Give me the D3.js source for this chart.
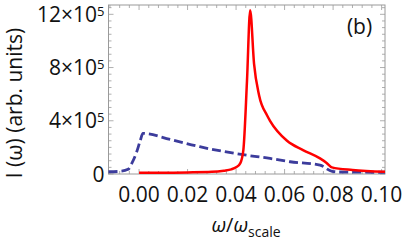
<!DOCTYPE html>
<html>
<head>
<meta charset="utf-8">
<script src="https://cdn.jsdelivr.net/npm/d3@7"></script>
<style>
  body { margin: 0; background: #fff; }
  text { font-family: "Open Sans", sans-serif; fill: #111; }
</style>
</head>
<body>
<svg id="chart"></svg>
<script>
const svg_width = 402;
const svg_height = 241;

// plot frame (pixels)
var margin = { top: 5, right: 17, bottom: 67, left: 108.5 };
var width = svg_width - margin.left - margin.right;
var height = svg_height - margin.top - margin.bottom;

// red (solid) curve: omega, I in units of 1e5
const red_w = [0.000, 0.010, 0.020, 0.030, 0.035, 0.038, 0.040, 0.0417, 0.043, 0.0445, 0.0458,
               0.0474, 0.0495, 0.0528, 0.054, 0.061, 0.0676, 0.0746, 0.0772, 0.0795, 0.088, 0.1014];
const red_i = [0.10, 0.10, 0.12, 0.16, 0.25, 0.35, 0.50, 0.80, 1.80, 7.0, 12.3,
               8.3, 5.9, 4.4, 4.0, 2.5, 1.8, 1.17, 0.85, 0.50, 0.30, 0.17];

// blue (dashed) curve
const blue_w = [-0.0126, -0.0078, -0.0045, -0.0030, -0.0010, 0.0004, 0.0016, 0.0128, 0.025,
                0.0429, 0.054, 0.0623, 0.0746, 0.0796, 0.083, 0.1014];
const blue_i = [0.17, 0.20, 0.35, 0.80, 1.65, 2.45, 3.05, 2.60, 2.05,
                1.45, 1.17, 0.92, 0.67, 0.20, 0.15, 0.13];

const x_ticks = [0.00, 0.02, 0.04, 0.06, 0.08, 0.10];
const x_labels = ["0.00", "0.02", "0.04", "0.06", "0.08", "0.10"];
const y_ticks = [0, 4, 8, 12];
const y_labels = ["0", "4", "8", "12"];

var svg = d3.select("svg#chart")
    .attr("width", svg_width)
    .attr("height", svg_height);

var x = d3.scaleLinear().domain([-0.0126, 0.1014]).range([0, width]);
var y = d3.scaleLinear().domain([0, 12.7]).range([height, 0]);

var g = svg.append("g")
    .attr("transform", translate(margin.left, margin.top));

// minor ticks
var x_minor = d3.range(-0.012, 0.1015, 0.004);
var y_minor = d3.range(0, 12.71, 0.5);

var ticks = g.append("g").attr("stroke", "#9a9a9a").attr("stroke-width", 0.8);
x_minor.forEach(v => {
  let major = x_ticks.some(t => Math.abs(t - v) < 1e-6);
  let len = major ? 5 : 3;
  ticks.append("line").attr("x1", x(v)).attr("x2", x(v)).attr("y1", height).attr("y2", height - len);
  ticks.append("line").attr("x1", x(v)).attr("x2", x(v)).attr("y1", 0).attr("y2", len);
});
y_minor.forEach(v => {
  let major = y_ticks.some(t => Math.abs(t - v) < 1e-6);
  let len = major ? 5 : 3;
  ticks.append("line").attr("y1", y(v)).attr("y2", y(v)).attr("x1", 0).attr("x2", len);
  ticks.append("line").attr("y1", y(v)).attr("y2", y(v)).attr("x1", width).attr("x2", width - len);
});

// frame
g.append("rect")
    .attr("width", width)
    .attr("height", height)
    .attr("fill", "none")
    .attr("stroke", "#9a9a9a")
    .attr("stroke-width", 1);

// x tick labels
g.selectAll(".xlab")
    .data(x_ticks)
    .enter()
    .append("text")
    .attr("class", "xlab")
    .attr("x", d => x(d))
    .attr("y", height + 28)
    .attr("text-anchor", "middle")
    .style("font-size", "21px")
    .text((d, i) => x_labels[i]);

// y tick labels with x10^5
var ylab = g.selectAll(".ylab")
    .data(y_ticks)
    .enter()
    .append("text")
    .attr("class", "ylab")
    .attr("x", -4)
    .attr("y", d => y(d) + 7.5)
    .attr("text-anchor", "end")
    .style("font-size", "21px");

ylab.each(function(d, i) {
  let t = d3.select(this);
  if (d === 0) {
    t.text(y_labels[i]);
  } else {
    t.append("tspan").text(y_labels[i] + "\u00d710");
    t.append("tspan").attr("dy", -6).style("font-size", "13px").text("5");
  }
});

// curves
var line = d3.line()
    .x(d => x(d[0]))
    .y(d => y(d[1]))
    .curve(d3.curveMonotoneX);

g.append("path")
    .datum(blue_w.map((w, i) => [w, blue_i[i]]))
    .attr("d", line)
    .attr("fill", "none")
    .attr("stroke", "#3c3c9c")
    .attr("stroke-width", 2.8)
    .attr("stroke-dasharray", "9,4");

g.append("path")
    .datum(red_w.map((w, i) => [w, red_i[i]]))
    .attr("d", line)
    .attr("fill", "none")
    .attr("stroke", "#ff0000")
    .attr("stroke-width", 2.5);

// panel label
g.append("text")
    .attr("x", 251)
    .attr("y", 29)
    .attr("text-anchor", "middle")
    .style("font-size", "21px")
    .text("(b)");

// axis titles
svg.append("text")
    .attr("transform", "translate(22," + (margin.top + 98) + ") rotate(-90)")
    .attr("text-anchor", "middle")
    .style("font-size", "21px")
    .text("I (\u03c9) (arb. units)");

var xt = svg.append("text")
    .attr("x", 246)
    .attr("y", 232)
    .attr("text-anchor", "middle")
    .style("font-size", "20px");
xt.append("tspan").style("font-style", "italic").text("\u03c9");
xt.append("tspan").text("/");
xt.append("tspan").style("font-style", "italic").text("\u03c9");
xt.append("tspan").attr("dy", 5).style("font-size", "14px").text("scale");

function translate(x, y) {
  return 'translate(' + String(x) + ',' + String(y) + ')';
}
</script>
</body>
</html>
